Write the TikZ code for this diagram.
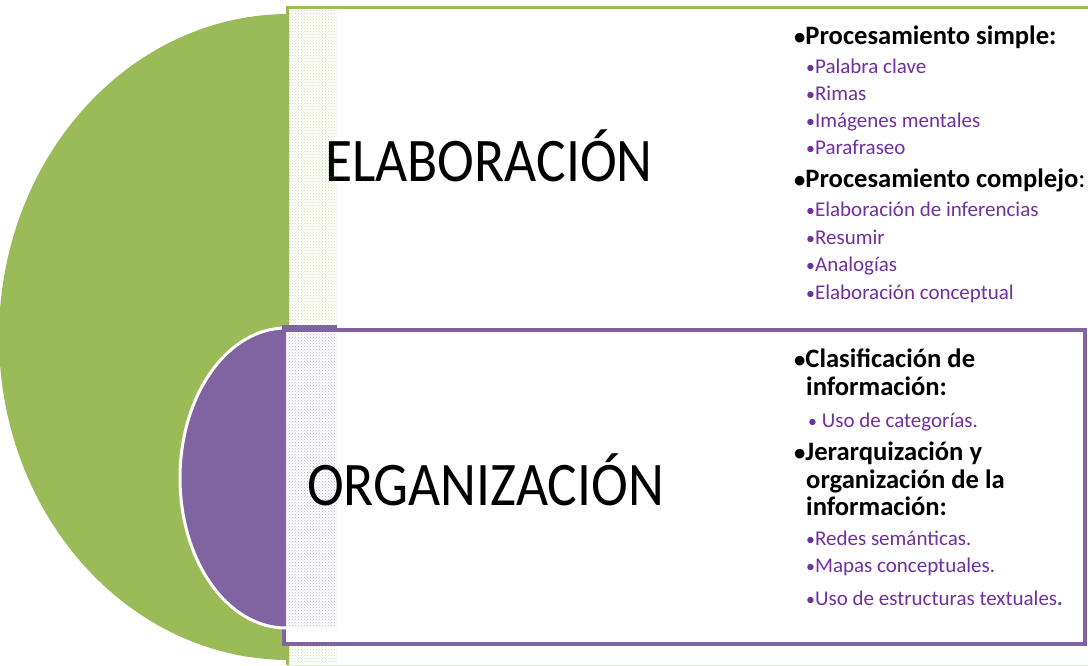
\documentclass[tikz,border=0pt]{standalone}
\usepackage{fontspec}
\setmainfont{Carlito}
\usetikzlibrary{patterns}

\definecolor{grn}{HTML}{9BBB59}
\definecolor{prp}{HTML}{8064A2}
\definecolor{itemc}{HTML}{7030A0}

\newcommand{\bul}{\scalebox{0.85}{•}}
\newcommand{\narrow}[1]{\scalebox{0.895}[1]{#1}}

\begin{document}
\begin{tikzpicture}[
        x=1pt, y=-1pt,
        big/.style={anchor=base west, inner sep=0pt, font=\fontsize{62}{62}\selectfont},
        head/.style={anchor=base west, inner sep=0pt, font=\bfseries\fontsize{26.6}{26.6}\selectfont},
        item/.style={anchor=base west, inner sep=0pt, text=itemc, font=\fontsize{21}{21}\selectfont}
    ]
        \useasboundingbox (0,0) rectangle (1088,666);

        % Upper frame (green)
        \fill[white] (287,8) rectangle (1092,665);
        \draw[grn!35, line width=1pt] (287,665) -- (1092,665);
        \draw[grn, line width=3pt] (1092,7.5) -- (287,7.5) -- (287,665);
        \fill[pattern=crosshatch dots, pattern color=grn!50] (289,10) rectangle (337,663);

        % Green half disc
        \fill[grn] (289,14) arc[start angle=-90, end angle=-270, x radius=290, y radius=323] -- cycle;

        % Lower frame (purple)
        \draw[prp, line width=4pt, fill=white] (284,330) rectangle (1085,644);
        \fill[pattern=crosshatch dots, pattern color=prp!50] (287,333) rectangle (337,626);

        % Purple half disc
        \draw[white, line width=3pt, fill=prp] (286,328) arc[start angle=-90, end angle=-270, x radius=106, y radius=150];
        \fill[prp] (282,325) rectangle (337,332);

        % Main labels
        \node[big] (elab) at (325,182) {\narrow{ELABORACIÓN}};
        \node[big] (orga) at (307,505) {\narrow{ORGANIZACIÓN}};

        % Upper list
        \node[head] (simple) at (794,45) {\bul Procesamiento simple:};
        \node[item] (pc) at (806,74) {\bul Palabra clave};
        \node[item] (ri) at (806,101) {\bul Rimas};
        \node[item] (im) at (806,128) {\bul Imágenes mentales};
        \node[item] (pa) at (806,155) {\bul Parafraseo};
        \node[head] (complejo) at (794,188) {\bul Procesamiento complejo{\mdseries :}};
        \node[item] (ei) at (806,217) {\bul Elaboración de inferencias};
        \node[item] (re) at (806,244) {\bul Resumir};
        \node[item] (an) at (806,271) {\bul Analogías};
        \node[item] (ec) at (806,299) {\bul Elaboración conceptual};

        % Lower list
        \node[head] (clas1) at (794,367) {\bul Clasificación de};
        \node[head] (clas2) at (806,395) {información:};
        \node[item] (uc) at (808,427) {\bul\ Uso de categorías.};
        \node[head] (jer1) at (794,460) {\bul Jerarquización y};
        \node[head] (jer2) at (806,488) {organización de la};
        \node[head] (jer3) at (806,515) {información:};
        \node[item] (rs) at (806,545) {\bul Redes semánticas.};
        \node[item] (mc) at (806,572) {\bul Mapas conceptuales.};
        \node[item] (et) at (806,605) {\bul Uso de estructuras textuales{\bfseries .}};

    \end{tikzpicture}
\end{document}
